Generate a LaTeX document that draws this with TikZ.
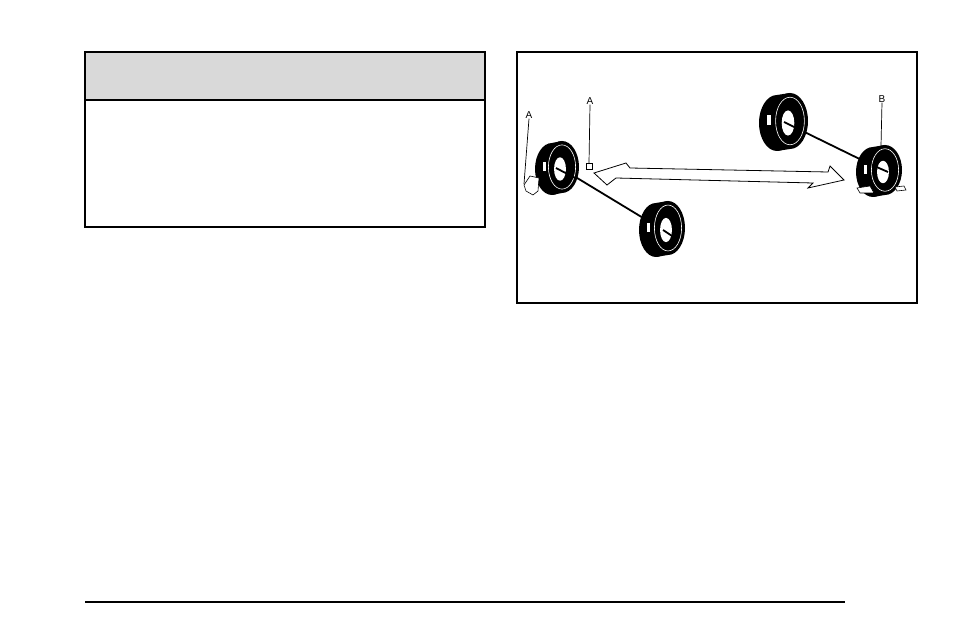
\documentclass[tikz,border=0pt]{standalone}
\usepackage{fontspec}
\setmainfont{Liberation Sans}
\begin{document}
\begin{tikzpicture}[x=1pt,y=-1pt,
  lbl/.style={font=\fontsize{10}{12}\selectfont,inner sep=0pt},
  lead/.style={line width=0.7pt}]
\useasboundingbox (0,0) rectangle (954,636);
\fill[white] (0,0) rectangle (954,636);
% left box
\fill[gray!30] (85,52) rectangle (485,100);
\draw[line width=1.2pt] (85,52) rectangle (485,227);
\draw[line width=1.2pt] (85,100) -- (485,100);
% right box
\draw[line width=1.2pt] (517,52) rectangle (917,303);
% bottom rule
\draw[line width=2.2pt] (85,602) -- (845,602);
% tire macro: cx cy (face center) rx ry dx (tread depth, back offset left)
\newcommand{\tyre}[5]{%
  \fill[black] (#1-#5,#2+2) ellipse [x radius=#3, y radius=#4];
  \fill[black] (#1-#5,#2+2-#4) -- (#1,#2-#4) -- (#1,#2+#4) -- (#1-#5,#2+2+#4) -- cycle;
  \fill[black] (#1,#2) ellipse [x radius=#3, y radius=#4];
  \draw[white,line width=0.6pt] (#1,#2) ellipse [x radius=#3*0.8, y radius=#4*0.85];
  \fill[white] (#1-2,#2+2) ellipse [x radius=#3*0.35, y radius=#4*0.45];
  \fill[white] (#1-#5-#3*0.55,#2-#4*0.2) rectangle (#1-#5-#3*0.35,#2+#4*0.15);
}
% axles
\draw[line width=1.8pt] (559,167) -- (663,230);
\draw[line width=1.8pt] (784,122) -- (878,168);
\tyre{562}{167}{17}{26}{10}
\tyre{668}{228}{17}{27}{12}
\tyre{790}{121}{18}{28}{13}
\tyre{885}{170}{17}{25}{12}
\draw[line width=1.8pt] (556,168) -- (575,178);
\draw[line width=1.8pt] (663,230) -- (672,236);
\draw[line width=1.8pt] (784,122) -- (800,130);
\draw[line width=1.8pt] (872,165) -- (888,172);
% double arrow
\draw[line width=0.8pt,fill=white] (594,173) -- (626,163) -- (630,168) -- (828,172) -- (830,166)
  -- (844,180) -- (808,188) -- (813,183) -- (616,178) -- (607,185) -- cycle;
% chocks
\draw[fill=white,line width=0.6pt] (524,185) -- (530,176) -- (539,178) -- (538,191) -- (533,195) -- (526,191) -- cycle;
\draw[fill=white,line width=0.6pt] (586,163) rectangle (592,169);
\draw[fill=white,line width=0.6pt] (857,188) -- (870,186) -- (874,193) -- (860,193) -- cycle;
\draw[fill=white,line width=0.6pt] (895,187) -- (904,186) -- (906,190) -- (897,191) -- cycle;
% labels
\node[lbl] (a1) at (529,115) {A};
\node[lbl] (a2) at (590,101) {A};
\node[lbl] (b) at (882,99) {B};
\coordinate (a1e) at (524,184);
\coordinate (a2e) at (589,163);
\coordinate (be) at (881,146);
\draw[lead] (a1.south) -- (a1e);
\draw[lead] (a2.south) -- (a2e);
\draw[lead] (b.south) -- (be);
\end{tikzpicture}
\end{document}
